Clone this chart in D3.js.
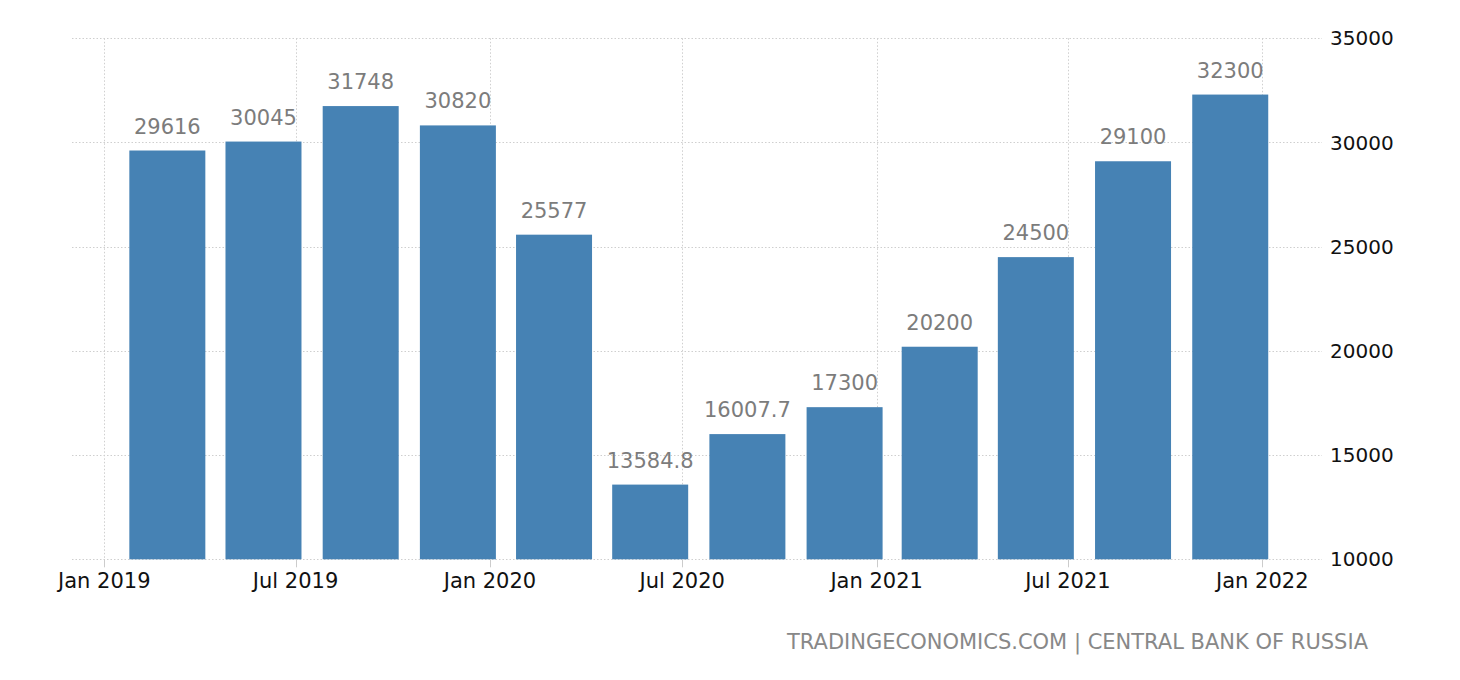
<!DOCTYPE html>
<html>
<head>
<meta charset="utf-8">
<script src="https://cdn.jsdelivr.net/npm/d3@7"></script>
<style>
  body { margin: 0; background: #fff; }
  svg { font-family: "DejaVu Sans", Verdana, sans-serif; }
  .grid line { stroke: #cfcfcf; stroke-dasharray: 1.5 2; }
</style>
</head>
<body>
<svg id="chart" width="1460" height="680"></svg>
<script>
// quarter-end dates and values (Central Bank of Russia)
let quarters = ["2019-03-31", "2019-06-30", "2019-09-30", "2019-12-31",
                "2020-03-31", "2020-06-30", "2020-09-30", "2020-12-31",
                "2021-03-31", "2021-06-30", "2021-09-30", "2021-12-31"];
let values = [29616, 30045, 31748, 30820, 25577, 13584.8, 16007.7, 17300, 20200, 24500, 29100, 32300];
let yTicks = [10000, 15000, 20000, 25000, 30000, 35000];
let source = "TRADINGECONOMICS.COM | CENTRAL BANK OF RUSSIA";

let parse = d3.timeParse("%Y-%m-%d");
let data = quarters.map((q, i) => ({ date: parse(q), value: values[i] }));

let svg = d3.select("#chart");
let width = +svg.attr("width");
let height = +svg.attr("height");

let x = d3.scaleTime()
    .domain([new Date(2019, 0, 1), new Date(2022, 0, 1)])
    .range([104.3, 1262.3]);
let y = d3.scaleLinear().domain([10000, 35000]).range([559.3, 38.3]);

let left = 72, right = 1322;
let barW = 76, barShift = 31;

// horizontal grid
svg.append("g").attr("class", "grid")
  .selectAll("line").data(yTicks).join("line")
    .attr("x1", left).attr("x2", right)
    .attr("y1", d => Math.round(y(d)) + 0.5).attr("y2", d => Math.round(y(d)) + 0.5);

let xTicks = x.ticks(d3.timeMonth.every(6));

// vertical grid
svg.append("g").attr("class", "grid")
  .selectAll("line").data(xTicks).join("line")
    .attr("x1", d => Math.round(x(d)) + 0.5).attr("x2", d => Math.round(x(d)) + 0.5)
    .attr("y1", y(35000)).attr("y2", y(10000));

// bars
svg.append("g")
  .selectAll("rect").data(data).join("rect")
    .attr("x", d => x(d.date) - barShift - barW / 2)
    .attr("width", barW)
    .attr("y", d => y(d.value))
    .attr("height", d => y(10000) - y(d.value))
    .attr("fill", "#4682b4");

// value labels
svg.append("g")
  .selectAll("text").data(data).join("text")
    .attr("x", d => x(d.date) - barShift)
    .attr("y", d => y(d.value) - 17)
    .attr("text-anchor", "middle")
    .attr("font-size", 21)
    .attr("fill", "#7c7c7c")
    .text(d => d.value);

// x axis
let xAxis = svg.append("g");
xAxis.selectAll("line").data(xTicks).join("line")
    .attr("x1", d => Math.round(x(d)) + 0.5).attr("x2", d => Math.round(x(d)) + 0.5)
    .attr("y1", y(10000)).attr("y2", y(10000) + 8)
    .attr("stroke", "#cccccc");
xAxis.selectAll("text").data(xTicks).join("text")
    .attr("x", d => x(d))
    .attr("y", 588)
    .attr("text-anchor", "middle")
    .attr("font-size", 21)
    .attr("fill", "#111")
    .text(d3.timeFormat("%b %Y"));

// y axis labels on the right
svg.append("g")
  .selectAll("text").data(yTicks).join("text")
    .attr("x", 1330)
    .attr("y", d => y(d))
    .attr("dy", "0.35em")
    .attr("font-size", 20)
    .attr("fill", "#111")
    .text(d => d);

// source
svg.append("text")
    .attr("x", 1368)
    .attr("y", 649)
    .attr("text-anchor", "end")
    .attr("font-size", 21)
    .attr("fill", "#888")
    .text(source);
</script>
</body>
</html>
